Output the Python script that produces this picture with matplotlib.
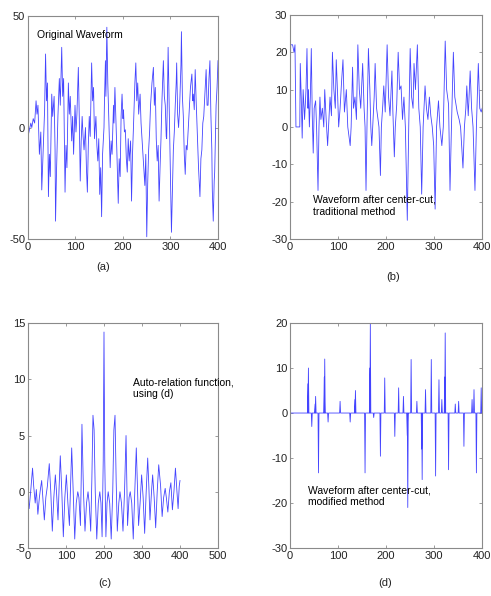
import matplotlib

matplotlib.use("Agg")
import matplotlib.pyplot as plt

plt.rcParams["font.family"] = ["Liberation Sans Narrow", "Liberation Sans", "DejaVu Sans"]
plt.rcParams["axes.unicode_minus"] = False

# (a) original waveform, vertices
wave_a_x = [0, 3, 6, 8, 11, 14, 17, 19, 21, 24, 27, 29, 32, 35, 37, 39, 41, 43, 45, 47,
            50, 52, 55, 57, 58, 60, 63, 66, 68, 71, 73, 75, 78, 80, 82, 85, 87, 89, 92, 94,
            96, 99, 101, 103, 106, 108, 110, 112, 114, 116, 118, 121, 123, 125, 127, 129,
            131, 134, 136, 138, 140, 143, 145, 147, 149, 151, 153, 155, 157, 160, 161, 163,
            164, 166, 168, 170, 173, 175, 177, 180, 181, 183, 185, 187, 190, 192, 194, 196,
            198, 200, 201, 203, 205, 207, 209, 211, 213, 216, 218, 220, 222, 225, 227, 229,
            231, 233, 236, 238, 240, 243, 246, 248, 250, 252, 254, 256, 258, 261, 264, 266,
            268, 270, 272, 274, 276, 278, 280, 282, 285, 287, 289, 291, 292, 294, 295, 297,
            298, 300, 302, 304, 306, 308, 310, 312, 313, 315, 317, 319, 320, 322, 323, 325,
            327, 329, 331, 333, 335, 338, 340, 342, 345, 347, 348, 350, 352, 354, 356, 359,
            362, 364, 366, 368, 370, 373, 375, 377, 379, 381, 383, 385, 387, 388, 390, 392,
            393, 395, 396, 398, 400]
wave_a_y = [-4, -1, 2, 0, 4, 2, 12, 6, 10, -12, -2, -28, -10, 8, 33, 12, 20, -31, -12, -22,
            15, 5, 14, -10, -42, -20, 5, 22, 10, 36, 14, 22, -29, -8, -18, 20, 6, 14, -6, 5,
            -12, 10, -2, 6, 27, 4, -24, -6, 5, -4, -10, 0, -18, -29, -8, 5,
            -4, 29, 12, 18, -5, 5, -8, -15, -5, -30, -18, -40, -12, 0, 12, 30,
            14, 45, 20, 5, -18, -6, -12, 10, 2, 18, 4, -10, -34, -14, -22, 5,
            15, 4, 8, -2, -1, -14, -20, -5, -15, -6, -33, -12, 0, 20, 29, 12,
            20, 6, 15, 2, -5, -15, -26, -12, -49, -25, -10, -2, 10, 20, 27, 10,
            18, -5, -15, -8, -33, -18, -5, 12, 30, 14, 10, -4, -5, 20, 36, 12,
            0, -25, -47, -28, -10, -2, 10, 20, 29, 6, 0, 8, 15, 28, 43, 14,
            5, -12, -21, -8, -10, 2, 10, 18, 24, 12, 15, 8, 26, 12, 0, -18,
            -31, -14, -10, 2, 5, 18, 26, 10, 10, 22, 30, 6, -10, -28, -42, -24,
            -20, 0, 10, 18, 30]

# (b) after center-cut, traditional method
wave_b_x = [0, 1, 5, 8, 10, 12, 20, 21, 23, 25, 27, 30, 33, 35, 37, 38, 40, 42, 44, 46,
            48, 50, 53, 55, 58, 60, 62, 64, 67, 70, 72, 75, 78, 80, 83, 86, 88, 91, 94, 96,
            99, 101, 104, 107, 110, 113, 117, 120, 125, 127, 130, 132, 135, 138, 141, 144,
            147, 151, 154, 156, 158, 160, 163, 166, 168, 170, 172, 175, 177, 180, 183, 185,
            188, 190, 193, 195, 198, 202, 205, 208, 212, 214, 217, 219, 222, 225, 228, 231,
            234, 237, 240, 244, 247, 250, 253, 256, 258, 261, 265, 268, 271, 274, 277, 281,
            284, 287, 290, 293, 296, 299, 302, 305, 309, 312, 316, 319, 323, 326, 330, 333,
            336, 340, 343, 348, 352, 355, 360, 363, 366, 368, 371, 375, 378, 381, 385, 388,
            392, 395, 398, 400]
wave_b_y = [0, 22, 22, 20, 22, 0, 0, 17, 8, -3, 10, 2, 10, 21, 5, 10, 0, 8, 21, 3,
            -7, 5, 7, 0, -17, 0, 8, 2, 5, 0, 10, 2, -5, 0, 8, 3, 20, 10, 5, 18,
            8, 0, 5, 12, 18, 4, 10, 0, -5, 0, 16, 5, 8, 2, 22, 10,
            5, 17, 5, 0, -17, 0, 21, 10, 0, -5, 0, 8, 17, 5, 2, 0,
            -13, 0, 6, 11, 4, 22, 8, 3, 15, 4, -8, 0, 6, 20, 10, 11,
            2, 8, 0, -25, 0, 21, 8, 5, 17, 10, 22, 5, 0, -18, 0, 11,
            5, 2, 8, 3, 0, -5, -22, 0, 7, 0, -5, 0, 23, 10, 6, -17,
            0, 20, 8, 4, 2, 0, -11, 0, 5, 11, 3, 15, 5, 0, -17, 0,
            17, 5, 4, 5]

# (c) auto-relation function
wave_c_x = [0, 3, 7, 12, 15, 19, 22, 26, 30, 33, 36, 39, 43, 47, 51, 56, 60, 64, 68, 72,
            75, 79, 82, 85, 89, 93, 97, 101, 105, 109, 112, 115, 119, 123, 127, 131, 134,
            138, 140, 142, 146, 150, 154, 158, 161, 165, 168, 171, 174, 177, 181, 185, 189,
            192, 195, 198, 200, 202, 205, 208, 211, 215, 219, 223, 226, 229, 232, 235, 239,
            242, 246, 250, 254, 258, 260, 262, 266, 269, 273, 277, 281, 285, 288, 291, 295,
            299, 303, 307, 311, 315, 318, 321, 325, 328, 332, 336, 340, 344, 349, 353, 357,
            361, 364, 368, 372, 376, 380, 384, 388, 392, 395, 398, 400]
wave_c_y = [-0.5, -1.5, 0, 2.1, 0.5, -1, 0.2, -2, -0.5, 0.3, 1.0, -0.5, -2.5, -0.5, 0.5,
            2.5, 0, -3.5, -0.5, 1.5, 0, -2.5, 0.5, 3.2, 0, -4, -0.5, 1.5, -1, -3, 0.5, 3.9,
            0, -4.2, -1, 0, -0.5, -3, 1, 6.0, 0, -3.5, -1, 0, -1, -3.5, 1, 6.8, 5.5, 0,
            -4.2, -1, 0, -1, -4, 2.8, 14.2, 2.8, -4, -1, 0, -1, -4.2, 0, 5.5, 6.8, 1, -3.5,
            -1, 0, -1, -3.5, 0, 5.0, 1, -3, -0.5, 0, -1, -4.2, 0, 3.9, 0.5, -3, -1, 1.5,
            -0.5, -3.7, 0, 3.0, 0.5, -2.5, 0, 1.5, -0.5, -3.2, 0, 2.4, 0.5, -2.2, -0.5,
            0.3, -0.5, -1.8, 0, 0.8, -1.6, 0, 2.1, 0, -1.5, 0.5, 1.0]

# (d) after center-cut, modified method: isolated spikes on a zero line
spike_d_x = [37, 38, 45, 52, 53, 59, 71, 72, 79, 104, 125, 135, 136, 156, 166, 167, 174,
             188, 197, 218, 226, 236, 244, 245, 252, 264, 274, 275, 282, 294, 303, 310,
             316, 322, 323, 330, 344, 351, 362, 379, 383, 388, 398]
spike_d_y = [6.5, 10, -3, 2, 3.7, -13.3, 8, 12, -2, 2.6, -2, 3, 5, -13.3, 10, 20, -1,
             -9.6, 7.8, -5.2, 5.6, 3.7, -5, -21, 11.9, 2.6, -8, -14.8, 5.2, 11.9, -14, 7.4,
             3, 8, 17.8, -12.6, 2, 2.6, -7.4, 3, 5.2, -13.3, 5.6]

LINE = "#4444ff"
FRAME = "#8a8a8a"


def style_axes(ax, xlim, xticks, ylim, yticks):
    ax.set_xlim(*xlim)
    ax.set_ylim(*ylim)
    ax.set_xticks(xticks)
    ax.set_yticks(yticks)
    for side in ax.spines.values():
        side.set_color(FRAME)
        side.set_linewidth(0.8)
    ax.tick_params(direction="in", length=2.5, width=0.6, color=FRAME,
                   top=True, right=True, labelsize=8, pad=2, labelcolor="#222222")


def main() -> None:
    fig = plt.figure(figsize=(4.91, 5.96), dpi=100)

    ax_a = fig.add_axes([0.057, 0.599, 0.387, 0.374])
    ax_a.plot(wave_a_x, wave_a_y, color=LINE, linewidth=0.6)
    style_axes(ax_a, (0, 400), [0, 100, 200, 300, 400], (-50, 50), [-50, 0, 50])
    ax_a.text(19, 41.5, "Original Waveform", fontsize=7.5, va="center")

    ax_b = fig.add_axes([0.591, 0.599, 0.391, 0.376])
    ax_b.plot(wave_b_x, wave_b_y, color=LINE, linewidth=0.6)
    style_axes(ax_b, (0, 400), [0, 100, 200, 300, 400], (-30, 30),
               [-30, -20, -10, 0, 10, 20, 30])
    ax_b.text(48, -21, "Waveform after center-cut,\ntraditional method", fontsize=7.5,
              va="center", linespacing=1.3)

    ax_c = fig.add_axes([0.057, 0.0805, 0.387, 0.3775])
    ax_c.plot(wave_c_x, wave_c_y, color=LINE, linewidth=0.6)
    style_axes(ax_c, (0, 500), [0, 100, 200, 300, 400, 500], (-5, 15), [-5, 0, 5, 10, 15])
    ax_c.text(276, 9.2, "Auto-relation function,\nusing (d)", fontsize=7.5,
              va="center", linespacing=1.3)

    d_x, d_y = [0], [0]
    for x, v in zip(spike_d_x, spike_d_y):
        d_x += [x - 1, x, x + 1]
        d_y += [0, v, 0]
    d_x.append(400)
    d_y.append(0)
    ax_d = fig.add_axes([0.591, 0.0805, 0.391, 0.3775])
    ax_d.plot(d_x, d_y, color=LINE, linewidth=0.6)
    style_axes(ax_d, (0, 400), [0, 100, 200, 300, 400], (-30, 20),
               [-30, -20, -10, 0, 10, 20])
    ax_d.text(37, -18.5, "Waveform after center-cut,\nmodified method", fontsize=7.5,
              va="center", linespacing=1.3)

    for label, px, py in [("(a)", 103, 267), ("(b)", 393, 277), ("(c)", 105, 583),
                          ("(d)", 385, 583)]:
        fig.text(px / 491, 1 - py / 596, label, fontsize=8, ha="center", va="center",
                 color="#222222")

    fig.savefig("out.png", dpi=100)
    plt.close(fig)


if __name__ == "__main__":
    main()
